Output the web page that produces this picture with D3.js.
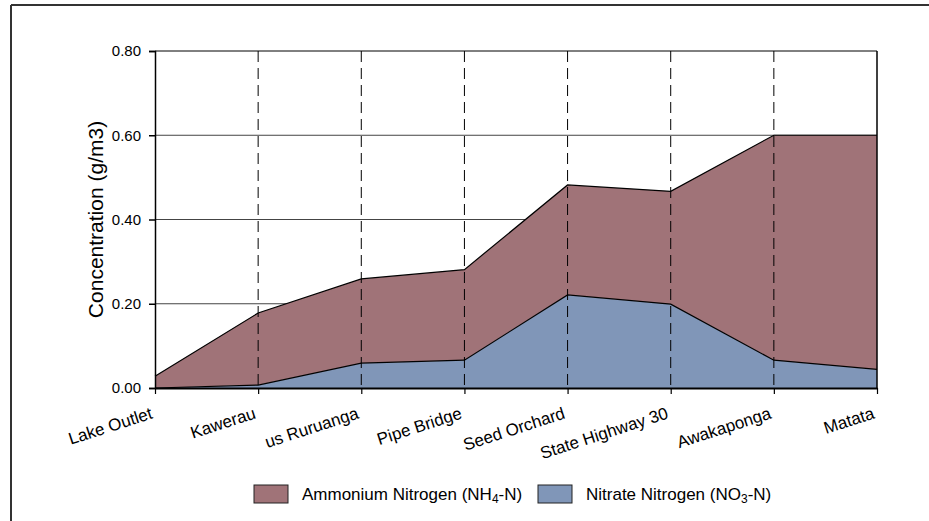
<!DOCTYPE html>
<html>
<head>
<meta charset="utf-8">
<script src="https://cdn.jsdelivr.net/npm/d3@7"></script>
<style>
  html, body { margin: 0; padding: 0; background: #fff; }
  svg { display: block; font-family: "Liberation Sans", Arial, sans-serif; }
</style>
</head>
<body>
<svg id="chart" width="929" height="521"></svg>
<script>
const categories = ["Lake Outlet", "Kawerau", "us Ruruanga", "Pipe Bridge", "Seed Orchard", "State Highway 30", "Awakaponga", "Matata"];
const nitrate  = [0.000, 0.007, 0.059, 0.066, 0.221, 0.199, 0.066, 0.044];
const ammonium = [0.028, 0.171, 0.200, 0.215, 0.261, 0.268, 0.534, 0.556];
const yTicks = [0, 0.2, 0.4, 0.6, 0.8];
const seriesNames = ["Ammonium Nitrogen", "Nitrate Nitrogen"];

const colAmm = "#A07378";
const colNit = "#8096B8";

const svg = d3.select("#chart");
const pLeft = 155, pRight = 877, pTop = 51, pBottom = 388;

const x = d3.scalePoint().domain(categories).range([pLeft, pRight]);
const y = d3.scaleLinear().domain([0, 0.8]).range([pBottom, pTop]);

// outer border
svg.append("line").attr("x1", 11).attr("x2", 929).attr("y1", 5).attr("y2", 5).attr("stroke", "#333").attr("stroke-width", 2);
svg.append("line").attr("x1", 11).attr("x2", 11).attr("y1", 5).attr("y2", 521).attr("stroke", "#333").attr("stroke-width", 2);

// gridlines
svg.append("g").selectAll("line").data(yTicks.slice(1, -1)).join("line")
  .attr("x1", pLeft).attr("x2", pRight)
  .attr("y1", d => y(d)).attr("y2", d => y(d))
  .attr("stroke", "#444").attr("stroke-width", 1);

const rows = categories.map((c, i) => ({ c, nit: nitrate[i], amm: ammonium[i] }));
const stack = d3.stack().keys(["nit", "amm"])(rows);

const area = d3.area()
  .x(d => x(d.data.c))
  .y0(d => y(d[0]))
  .y1(d => y(d[1]));
const topLine = d3.line().x(d => x(d.data.c)).y(d => y(d[1]));

svg.append("path").datum(stack[1]).attr("d", area).attr("fill", colAmm);
svg.append("path").datum(stack[0]).attr("d", area).attr("fill", colNit);
svg.append("path").datum(stack[0]).attr("d", topLine).attr("fill", "none").attr("stroke", "#000").attr("stroke-width", 1.2);
svg.append("path").datum(stack[1]).attr("d", topLine).attr("fill", "none").attr("stroke", "#000").attr("stroke-width", 1.2);

// dashed verticals
svg.append("g").selectAll("line").data(categories.slice(1, -1)).join("line")
  .attr("x1", d => x(d)).attr("x2", d => x(d))
  .attr("y1", pTop).attr("y2", pBottom)
  .attr("stroke", "#000").attr("stroke-width", 1)
  .attr("stroke-dasharray", "11,6");

// frame top & right
svg.append("line").attr("x1", pLeft).attr("x2", pRight).attr("y1", pTop).attr("y2", pTop).attr("stroke", "#000").attr("stroke-width", 1);
svg.append("line").attr("x1", pRight).attr("x2", pRight).attr("y1", pTop).attr("y2", pBottom).attr("stroke", "#000").attr("stroke-width", 1.5);

// y axis
const yAxis = svg.append("g").attr("transform", `translate(${pLeft},0)`)
  .call(d3.axisLeft(y).tickValues(yTicks).tickFormat(d3.format(".2f")).tickSize(6).tickPadding(8));
yAxis.select(".domain").attr("stroke", "#000").attr("stroke-width", 1.5);
yAxis.selectAll(".tick line").attr("stroke", "#000").attr("stroke-width", 1.5);
yAxis.selectAll("text").attr("font-size", 15).attr("fill", "#000").attr("font-family", "Liberation Sans, Arial, sans-serif");

// x axis
const xAxis = svg.append("g").attr("transform", `translate(0,${pBottom})`)
  .call(d3.axisBottom(x).tickSize(6).tickSizeOuter(0));
xAxis.select(".domain").attr("stroke", "#000").attr("stroke-width", 2);
xAxis.selectAll(".tick line").attr("stroke", "#000").attr("stroke-width", 1.2);
xAxis.selectAll("text")
  .attr("font-size", 17).attr("fill", "#000")
  .attr("font-family", "Liberation Sans, Arial, sans-serif")
  .attr("text-anchor", "end")
  .attr("dy", null)
  .attr("y", null)
  .attr("transform", "translate(-2,30) rotate(-18)");

// y title
svg.append("text")
  .attr("transform", `translate(103,${(pTop + pBottom) / 2}) rotate(-90)`)
  .attr("text-anchor", "middle")
  .attr("font-size", 21)
  .attr("fill", "#000")
  .text("Concentration (g/m3)");

// legend
const legend = [
  { name: seriesNames[0], sub: "4", base: "NH", suffix: "-N)", color: colAmm, sx: 254, tx: 302 },
  { name: seriesNames[1], sub: "3", base: "NO", suffix: "-N)", color: colNit, sx: 538, tx: 586 }
];
const lg = svg.append("g");
legend.forEach(l => {
  lg.append("rect").attr("x", l.sx).attr("y", 485).attr("width", 34).attr("height", 18)
    .attr("fill", l.color).attr("stroke", "#222").attr("stroke-width", 1);
  const t = lg.append("text").attr("x", l.tx).attr("y", 500).attr("font-size", 17).attr("fill", "#000");
  t.append("tspan").text(l.name + " (" + l.base);
  t.append("tspan").attr("font-size", 12).attr("dy", 3).text(l.sub);
  t.append("tspan").attr("dy", -3).text(l.suffix);
});
</script>
</body>
</html>
